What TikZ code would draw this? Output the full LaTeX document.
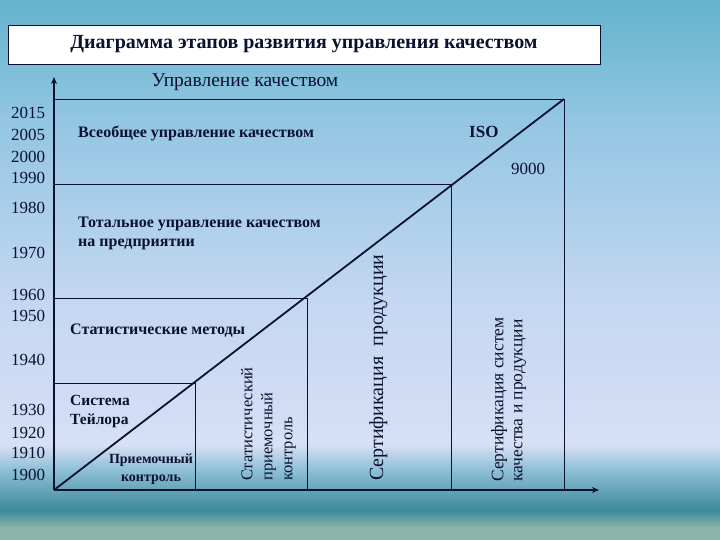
\documentclass[tikz,border=0pt]{standalone}
\usepackage{fontspec}
\setmainfont{Liberation Serif}
\usetikzlibrary{arrows.meta}
\definecolor{inkblue}{HTML}{0B1230}
\definecolor{bgA}{HTML}{63B3CD}
\definecolor{bgB}{HTML}{93C6E2}
\definecolor{bgC}{HTML}{C4D7F1}
\definecolor{bgD}{HTML}{D6DFF6}
\definecolor{bgE}{HTML}{8EBFD6}
\definecolor{bgF}{HTML}{3B8A9B}
\definecolor{bgG}{HTML}{8DB3A8}
\tikzset{
  axisline/.style={line width=1.8pt, draw=inkblue},
  gridline/.style={line width=0.9pt, draw=inkblue},
  year/.style={font=\fontsize{17}{18}\selectfont, inner sep=0pt, text=inkblue},
  stagelbl/.style={font=\bfseries\fontsize{16}{19}\selectfont, align=left, inner sep=0pt, anchor=base west, text=inkblue},
  vertlbl/.style={font=\fontsize{17}{20}\selectfont, align=left, inner sep=0pt, rotate=90, anchor=north west, text=inkblue}
}
\begin{document}
\begin{tikzpicture}[x=1pt, y=-1pt]
\useasboundingbox (0,0) rectangle (720,540);
% background
\shade[top color=bgA, bottom color=bgB] (0,0) rectangle (720,120);
\shade[top color=bgB, bottom color=bgC] (0,120) rectangle (720,300);
\shade[top color=bgC, bottom color=bgD] (0,300) rectangle (720,445);
\shade[top color=bgD, bottom color=bgE] (0,445) rectangle (720,470);
\shade[top color=bgE, bottom color=bgF] (0,470) rectangle (720,510);
\shade[top color=bgF, bottom color=bgG] (0,510) rectangle (720,528);
\fill[bgG] (0,528) rectangle (720,540);

% title
\node[draw=inkblue, line width=0.8pt, fill=white, minimum width=592pt, minimum height=39pt, inner sep=0pt,
  font=\bfseries\fontsize{20}{22}\selectfont, text=inkblue] (title) at (304,44.5)
  {Диаграмма этапов развития управления качеством};

% axes and frame
\coordinate (O) at (54,490);
\coordinate (ytop) at (54,77);
\coordinate (xend) at (599,490);
\coordinate (top) at (564,99);
\draw[axisline, -{Stealth[length=7pt, width=6pt]}] (O) -- (ytop);
\draw[axisline, -{Stealth[length=7pt, width=6pt]}] (O) -- (xend);
\draw[gridline] (54,99) -- (top) -- (564,490);
\draw[gridline] (54,184) -- (451,184) coordinate (c4) -- (451,490);
\draw[gridline] (54,298) -- (307,298) coordinate (c3) -- (307,490);
\draw[gridline] (54,383) -- (195,383) coordinate (c2) -- (195,490);
\draw[axisline] (O) -- (top);

% years
\foreach \yr/\yy in {2015/113, 2005/135, 2000/157, 1990/178, 1980/208, 1970/253, 1960/295,
  1950/316, 1940/360, 1930/410, 1920/433, 1910/453, 1900/475}
  \node[year] (y\yr) at (28,\yy) {\yr};

\node[font=\fontsize{19.5}{22}\selectfont, inner sep=0pt, anchor=base, text=inkblue] (qm) at (245,87) {Управление качеством};

% stages
\node[stagelbl] (tqm) at (78,138) {Всеобщее управление качеством};
\node[stagelbl, font=\bfseries\fontsize{17}{20}\selectfont] (iso) at (469,138) {ISO};
\node[font=\fontsize{17}{20}\selectfont, inner sep=0pt, anchor=base west, text=inkblue] (iso2) at (511,175) {9000};
\node[stagelbl] (cwqc) at (78,246) {Тотальное управление качеством\\на предприятии};
\node[stagelbl] (spc) at (70,334) {Статистические методы};
\node[stagelbl, font=\bfseries\fontsize{15.5}{19}\selectfont] (taylor) at (70,424) {Система\\Тейлора};
\node[stagelbl, font=\bfseries\fontsize{14}{18}\selectfont, align=center, anchor=base] (insp) at (151,481) {Приемочный\\контроль};

\node[vertlbl, font=\fontsize{16.5}{20}\selectfont] (sampl) at (241,481) {Статистический\\приемочный\\контроль};
\node[vertlbl, font=\fontsize{20}{22}\selectfont] (cert) at (369,481) {Сертификация~ продукции};
\node[vertlbl, font=\fontsize{17.5}{19}\selectfont] (qscert) at (491,482) {Сертификация систем\\качества и продукции};
\end{tikzpicture}
\end{document}
